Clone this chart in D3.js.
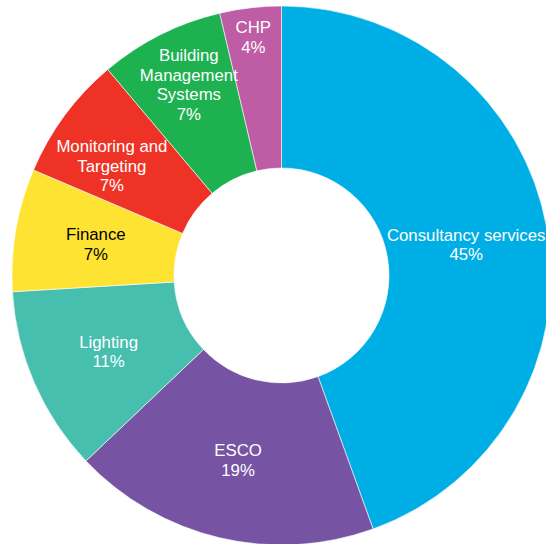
<!DOCTYPE html>
<html>
<head>
<meta charset="utf-8">
<script src="https://cdn.jsdelivr.net/npm/d3@7"></script>
<style>
  body { margin: 0; background: #fff; }
  text { font-family: "Liberation Sans", Arial, sans-serif; }
</style>
</head>
<body>
<div id="chart"></div>
<script>
// slices, clockwise from 12 o'clock
var categories = ["Consultancy services", "ESCO", "Lighting", "Finance", "Monitoring and Targeting", "Building Management Systems", "CHP"];
var shares = [44.48, 18.44, 11.12, 7.36, 7.45, 7.47, 3.68];
var pctLabels = ["45%", "19%", "11%", "7%", "7%", "7%", "4%"];
var labelLines = [["Consultancy services"], ["ESCO"], ["Lighting"], ["Finance"], ["Monitoring and", "Targeting"], ["Building", "Management", "Systems"], ["CHP"]];

var colors = ["#00aee6", "#7754a3", "#46bfaf", "#fee333", "#ee3326", "#1db14f", "#bf5ca6"];
var textColors = ["#fff", "#fff", "#fff", "#000", "#fff", "#fff", "#fff"];
// nudge of each label away from its arc centroid (narrow slices push out)
var labelShift = [[-1, 1.5], [0, 1], [0, 1], [0, 0.5], [-18, 2], [-8, -22.5], [-6.5, -51]];

var width = 546, height = 544;
var cx = 281.5, cy = 275.5;
var outerR = 269.5, innerR = 107.5;
var fontSize = 16.8, lineH = 19.6;

var svg = d3.select("#chart")
  .append("svg")
  .attr("width", width)
  .attr("height", height);

var g = svg.append("g")
  .attr("transform", "translate(" + cx + "," + cy + ")");

var pie = d3.pie().sort(null).value(function(d) { return d; });
var arcs = pie(shares);

var arc = d3.arc().innerRadius(innerR).outerRadius(outerR);

g.selectAll("path.slice")
  .data(arcs)
  .enter().append("path")
  .attr("class", "slice")
  .attr("d", arc)
  .style("fill", function(d, i) { return colors[i]; })
  .style("stroke", "#fff")
  .style("stroke-width", 0.6);

g.selectAll("text.lbl")
  .data(arcs)
  .enter().append("text")
  .attr("class", "lbl")
  .attr("text-anchor", "middle")
  .style("font-size", fontSize + "px")
  .style("fill", function(d, i) { return textColors[i]; })
  .each(function(d, i) {
    var lines = labelLines[i].concat([pctLabels[i]]);
    var c = arc.centroid(d);
    var px = c[0] + labelShift[i][0], py = c[1] + labelShift[i][1];
    var y0 = py - ((lines.length - 1) * lineH - 0.716 * fontSize) / 2;
    var t = d3.select(this);
    lines.forEach(function(s, k) {
      t.append("tspan")
        .attr("x", px)
        .attr("y", y0 + k * lineH)
        .text(s);
    });
  });
</script>
</body>
</html>
